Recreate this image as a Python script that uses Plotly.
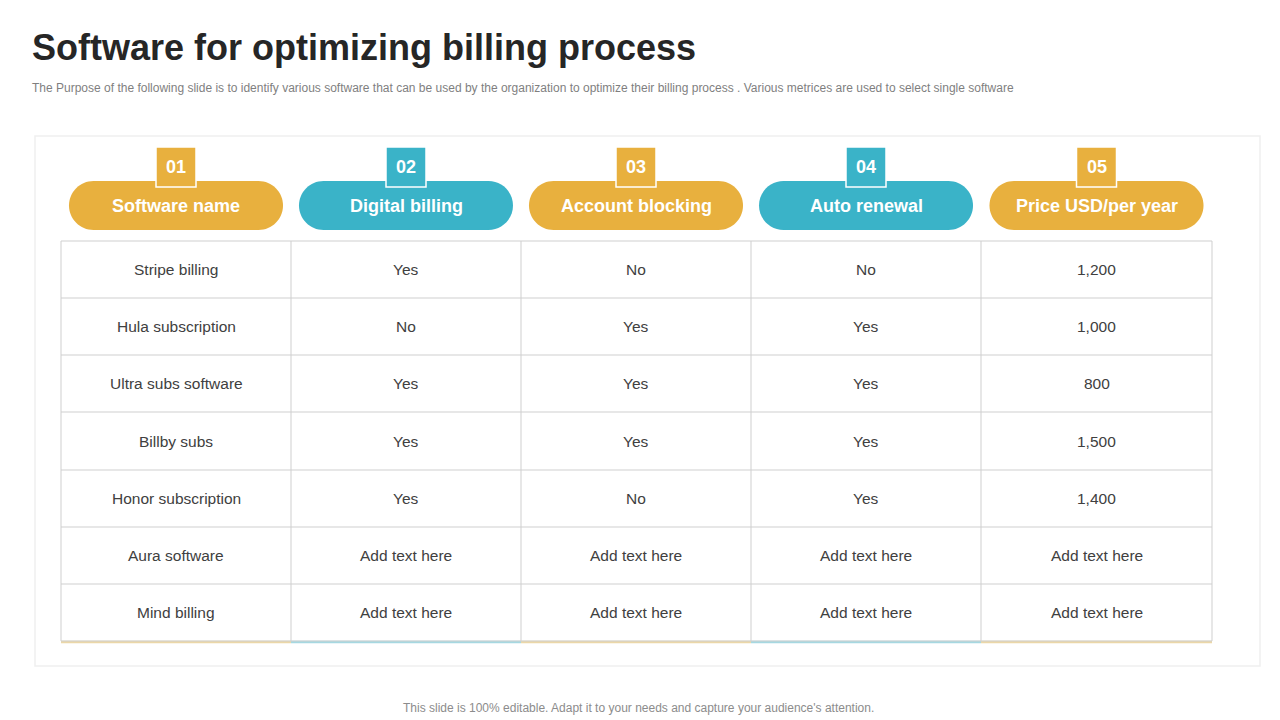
import plotly.graph_objects as go

headers = ["Software name", "Digital billing", "Account blocking", "Auto renewal", "Price USD/per year"]
numbers = ["01", "02", "03", "04", "05"]
software = ["Stripe billing", "Hula subscription", "Ultra subs software", "Billby subs",
            "Honor subscription", "Aura software", "Mind billing"]
digital = ["Yes", "No", "Yes", "Yes", "Yes", "Add text here", "Add text here"]
blocking = ["No", "Yes", "Yes", "Yes", "No", "Add text here", "Add text here"]
renewal = ["No", "Yes", "Yes", "Yes", "Yes", "Add text here", "Add text here"]
price = ["1,200", "1,000", "800", "1,500", "1,400", "Add text here", "Add text here"]
columns = [software, digital, blocking, renewal, price]

GOLD = "#E8B03E"
TEAL = "#3AB3C8"
colors = [GOLD, TEAL, GOLD, TEAL, GOLD]
FONT = "Arial, Liberation Sans"

fig = go.Figure()
shapes, ann = [], []

shapes.append(dict(type="rect", x0=35, x1=1260, y0=135, y1=665,
                   line=dict(color="#F0F0F0", width=1.5), fillcolor="white", layer="below"))

xs = [61, 291, 521, 751, 981, 1212]
ys = [240, 297, 354, 411, 469, 526, 583, 640]
grid = "#CFCFCF"
k = 0.5523

for i in range(5):
    cx = (xs[i] + xs[i + 1]) / 2
    x0, x1, y0, y1 = cx - 107, cx + 107, 180, 229
    r = (y1 - y0) / 2
    ym = y0 + r
    a, b = x0 + r, x1 - r
    path = (f"M{a},{y0} L{b},{y0} "
            f"C{b + k*r},{y0} {x1},{ym - k*r} {x1},{ym} "
            f"C{x1},{ym + k*r} {b + k*r},{y1} {b},{y1} "
            f"L{a},{y1} "
            f"C{a - k*r},{y1} {x0},{ym + k*r} {x0},{ym} "
            f"C{x0},{ym - k*r} {a - k*r},{y0} {a},{y0} Z")
    shapes.append(dict(type="path", path=path, fillcolor=colors[i], line=dict(width=0)))
    ann.append(dict(x=cx, y=205, text=f"<b>{headers[i]}</b>", showarrow=False,
                    font=dict(family=FONT, size=18, color="white")))
    shapes.append(dict(type="rect", x0=cx - 20, x1=cx + 20, y0=146, y1=186,
                       fillcolor=colors[i], line=dict(color="white", width=1.5)))
    ann.append(dict(x=cx, y=166, text=f"<b>{numbers[i]}</b>", showarrow=False,
                    font=dict(family=FONT, size=18, color="white")))
    for j, val in enumerate(columns[i]):
        ann.append(dict(x=cx, y=(ys[j] + ys[j + 1]) / 2, text=val, showarrow=False,
                        font=dict(family=FONT, size=15.5, color="#404040")))
    shapes.append(dict(type="line", x0=xs[i], x1=xs[i + 1], y0=641, y1=641,
                       line=dict(color="#EBD7A8" if colors[i] == GOLD else "#A6D8E1", width=2.5)))

for y in ys:
    shapes.append(dict(type="line", x0=xs[0], x1=xs[-1], y0=y, y1=y, line=dict(color=grid, width=1)))
for x in xs:
    shapes.append(dict(type="line", x0=x, x1=x, y0=ys[0], y1=ys[-1], line=dict(color=grid, width=1)))

ann.append(dict(x=30, y=46, xanchor="left", text="<b>Software for optimizing billing process</b>",
                showarrow=False, font=dict(family=FONT, size=36, color="#262626")))
ann.append(dict(x=30, y=87, xanchor="left",
                text="The Purpose of the following slide is to identify various software that can be used by the organization to optimize their billing process . Various metrices are used to select single software",
                showarrow=False, font=dict(family=FONT, size=12, color="#7F7F7F")))
ann.append(dict(x=638, y=707, text="This slide is 100% editable. Adapt it to your needs and capture your audience's attention.",
                showarrow=False, font=dict(family=FONT, size=12, color="#8C8C8C")))

for s in shapes:
    s.update(xref="x", yref="y")
for a_ in ann:
    a_.update(xref="x", yref="y")

fig.update_layout(width=1280, height=720, margin=dict(l=0, r=0, t=0, b=0),
                  paper_bgcolor="white", plot_bgcolor="white",
                  shapes=shapes, annotations=ann, showlegend=False,
                  xaxis=dict(range=[8, 1288], visible=False, fixedrange=True),
                  yaxis=dict(range=[727, 7], visible=False, fixedrange=True))
fig.write_html("out.html", config={"displayModeBar": False})
